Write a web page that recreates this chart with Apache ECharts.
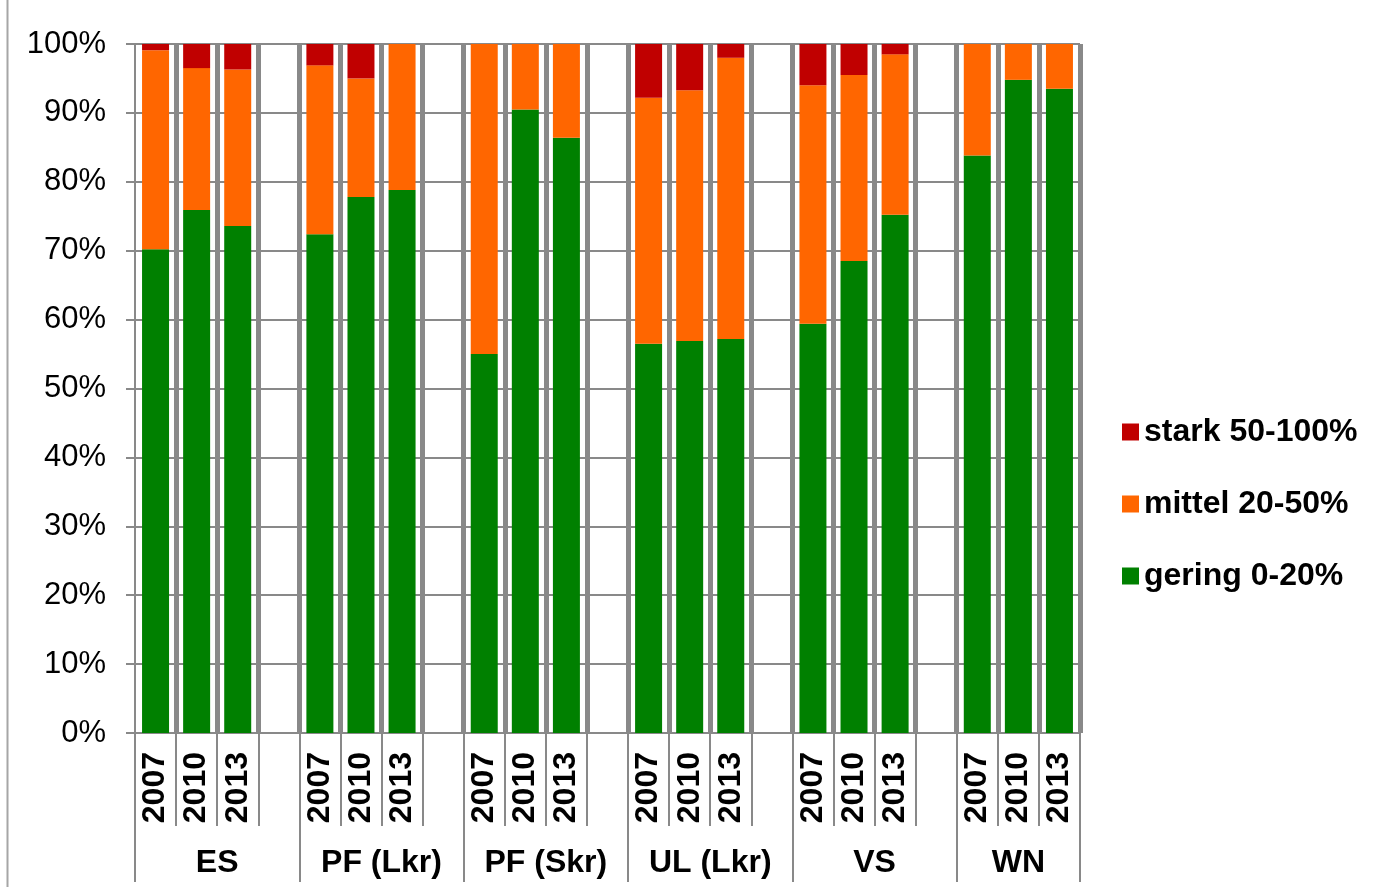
<!DOCTYPE html>
<html>
<head>
    <meta charset="utf-8">
    <title>Schädigung 2007-2013</title>
    <script src="https://cdn.jsdelivr.net/npm/echarts@6/dist/echarts.min.js"></script>
</head>
<body style="margin:0">
<div id="main" style="width:1393px;height:887px;"></div>
<script type="text/javascript">
    // Gruppen und Jahre
    var groups = ['ES', 'PF (Lkr)', 'PF (Skr)', 'UL (Lkr)', 'VS', 'WN'];
    var years = ['2007', '2010', '2013'];

    // Anteile in %, je Gruppe 2007 / 2010 / 2013
    var gering = [70.2, 75.9, 73.6, 72.4, 77.8, 78.8, 55.0, 90.5, 86.4, 56.5, 56.9, 57.2, 59.4, 68.5, 75.2, 83.8, 94.8, 93.5];
    var mittel = [28.9, 20.6, 22.7, 24.5, 17.2, 21.2, 45.0, 9.5, 13.6, 35.7, 36.4, 40.8, 34.6, 27.0, 23.3, 16.2, 5.2, 6.5];
    var stark = [0.9, 3.5, 3.7, 3.1, 5.0, 0, 0, 0, 0, 7.8, 6.7, 2.0, 6.0, 4.5, 1.5, 0, 0, 0];

    var names = ['stark 50-100%', 'mittel 20-50%', 'gering 0-20%'];
    var colors = ['#c00000', '#ff6600', '#008000'];

    var font = '"Liberation Sans", Arial, sans-serif';
    var grey = '#898989';

    // Kategorien mit einer leeren Spalte zwischen den Gruppen
    var slots = [];
    var sGering = [], sMittel = [], sStark = [];
    var groupTicks = [0];
    var groupCenters = [];
    var k = 0;
    for (var g = 0; g < groups.length; g++) {
        var start = slots.length;
        for (var y = 0; y < years.length; y++) {
            slots.push(years[y]);
            sGering.push(gering[k]);
            sMittel.push(mittel[k]);
            sStark.push(stark[k]);
            k++;
        }
        if (g < groups.length - 1) {
            slots.push('');
            sGering.push(null);
            sMittel.push(null);
            sStark.push(null);
        }
        groupTicks.push(slots.length);
        groupCenters.push((start + slots.length) / 2);
    }

    function barSeries(name, data, color) {
        return {
            name: name,
            type: 'bar',
            stack: 'total',
            barWidth: 27,
            itemStyle: {color: color},
            data: data
        };
    }

    var myChart = echarts.init(document.getElementById('main'));
    var option = {
        backgroundColor: '#fff',
        animation: false,
        grid: {left: 135, right: 313, top: 44, bottom: 154, containLabel: false},
        legend: {
            orient: 'vertical',
            left: 1122,
            top: 416,
            padding: 0,
            itemWidth: 17,
            itemHeight: 17,
            itemGap: 40,
            icon: 'rect',
            data: names,
            textStyle: {fontFamily: font, fontSize: 32, fontWeight: 'bold', color: '#000', lineHeight: 32}
        },
        xAxis: [
            {
                type: 'category',
                data: slots,
                axisLine: {lineStyle: {color: grey, width: 2}},
                axisTick: {show: true, interval: 0, length: 93, lineStyle: {color: grey, width: 2}},
                axisLabel: {
                    interval: 0, rotate: 90, margin: 19,
                    fontFamily: font, fontSize: 32, fontWeight: 'bold', color: '#000'
                },
                splitLine: {show: true, interval: 0, showMinLine: false, lineStyle: {color: grey, width: 5}}
            },
            {
                type: 'value',
                min: 0,
                max: slots.length,
                position: 'bottom',
                axisLine: {show: false},
                splitLine: {show: false},
                axisTick: {show: true, length: 149, customValues: groupTicks, lineStyle: {color: grey, width: 2}},
                axisLabel: {
                    customValues: groupCenters,
                    margin: 114,
                    fontFamily: font, fontSize: 32, fontWeight: 'bold', color: '#000',
                    formatter: function (v) {
                        var i = groupCenters.indexOf(v);
                        return i >= 0 ? groups[i] : '';
                    }
                }
            }
        ],
        yAxis: {
            type: 'value',
            min: 0,
            max: 100,
            interval: 10,
            axisLine: {show: true, lineStyle: {color: grey, width: 2}},
            axisTick: {show: true, length: 9, lineStyle: {color: grey, width: 2}},
            axisLabel: {formatter: '{value}%', margin: 29, fontFamily: font, fontSize: 31, color: '#000'},
            splitLine: {show: true, lineStyle: {color: grey, width: 2}}
        },
        graphic: [{
            type: 'line',
            shape: {x1: 7.5, y1: 0, x2: 7.5, y2: 887},
            style: {stroke: '#a6a6a6', lineWidth: 2}
        }],
        series: [
            barSeries(names[2], sGering, colors[2]),
            barSeries(names[1], sMittel, colors[1]),
            barSeries(names[0], sStark, colors[0])
        ]
    };
    myChart.setOption(option);
</script>
</body>
</html>
